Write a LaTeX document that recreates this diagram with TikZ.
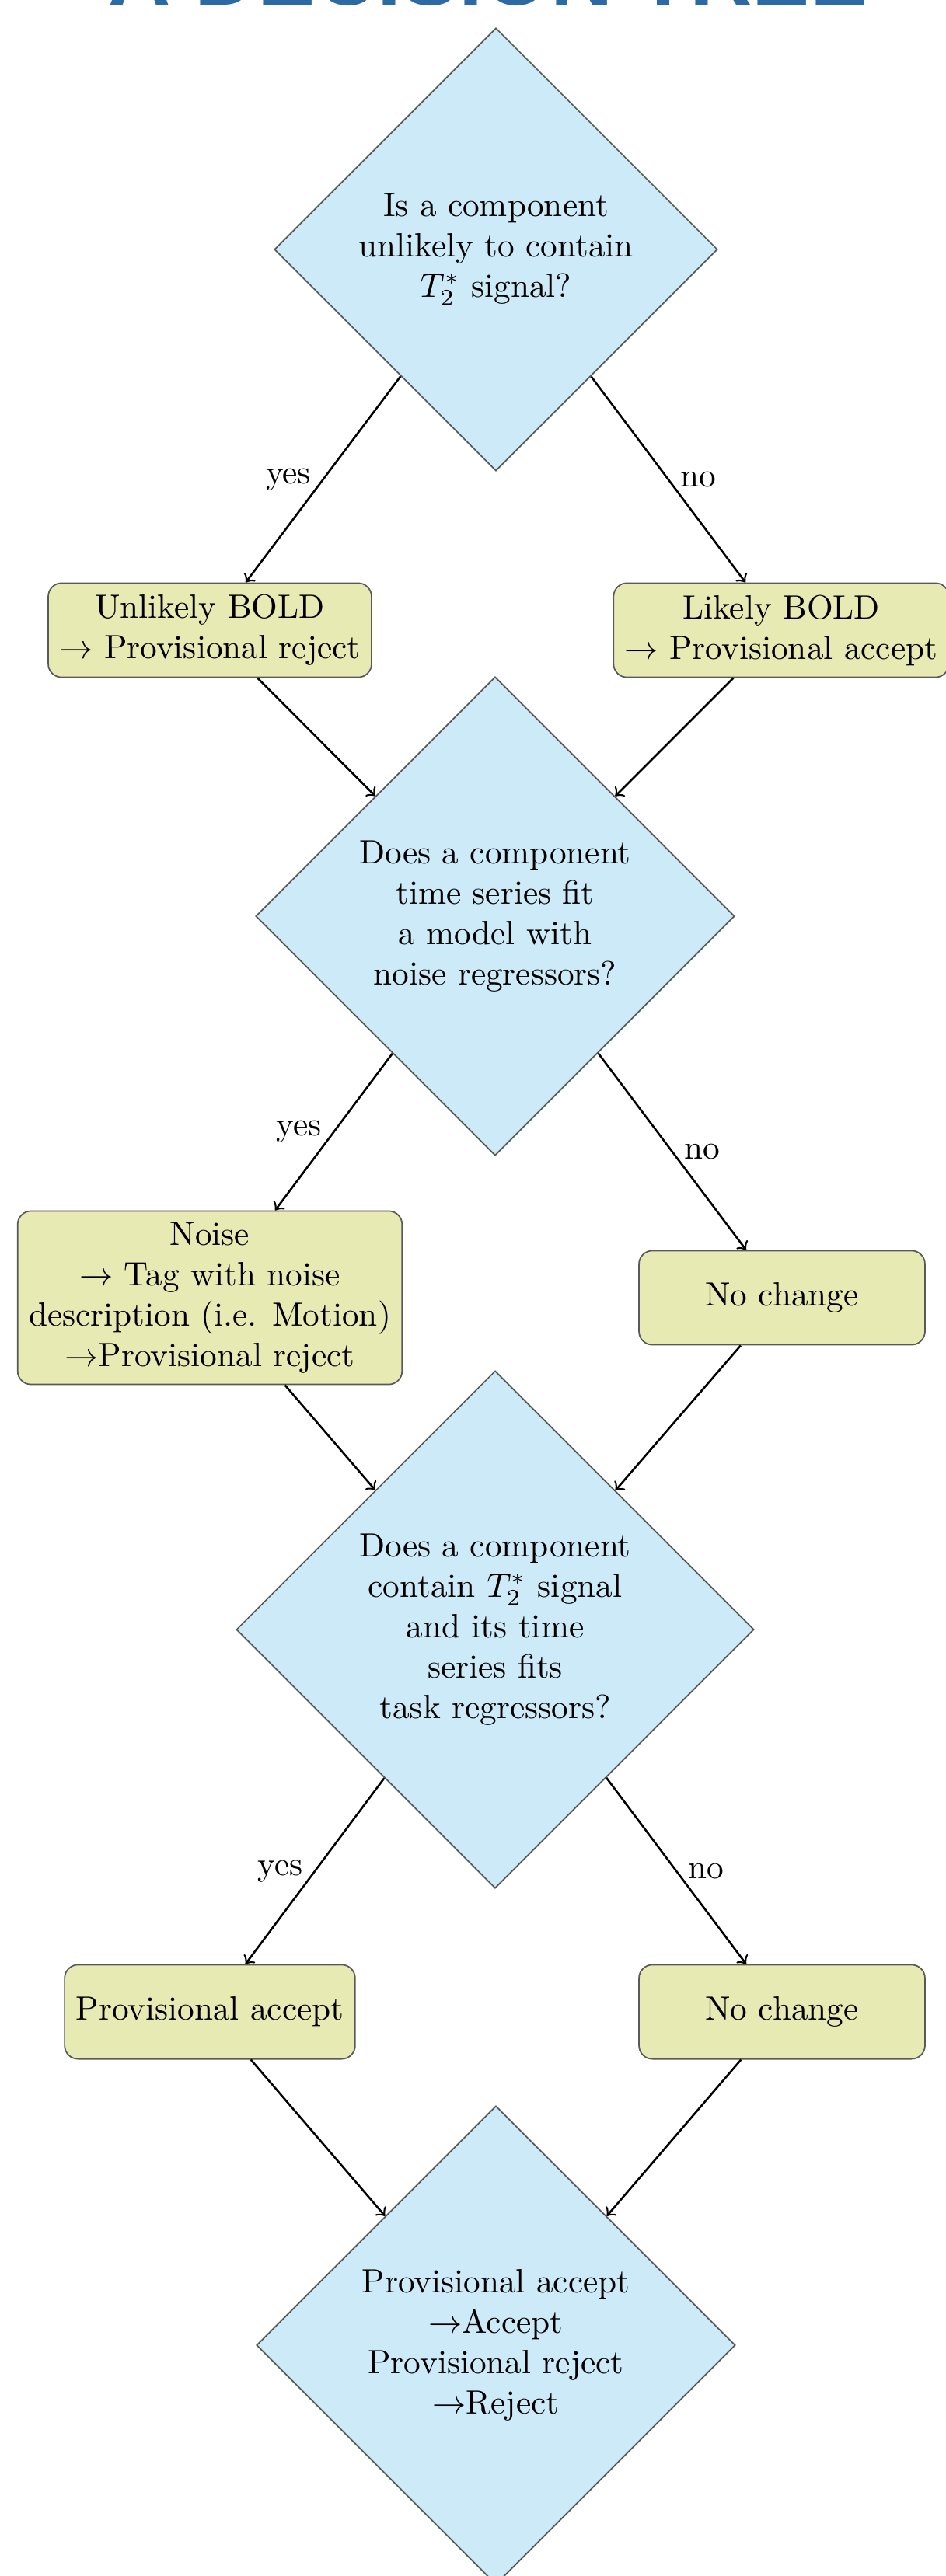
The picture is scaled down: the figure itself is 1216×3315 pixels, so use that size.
\documentclass[tikz,border=0pt]{standalone}
\usepackage{fontspec}
\newfontfamily\titlefont{Liberation Sans}
\usetikzlibrary{shapes.geometric}
\definecolor{questionfill}{RGB}{205,234,248}
\definecolor{outcomefill}{RGB}{232,234,180}
\definecolor{titleblue}{RGB}{45,105,165}

\begin{document}
\begin{tikzpicture}[x=0.231pt, y=-0.231pt,
    every node/.style = {align=center},
    question/.style = {shape=diamond, draw=black!65, fill=questionfill, inner sep=1pt,
      minimum width=#1, minimum height=#1},
    outcome/.style = {shape=rectangle, rounded corners=4pt, draw=black!65, fill=outcomefill,
      minimum width=85pt, minimum height=28pt},
    every edge/.style = {draw, semithick},
    ]
    \useasboundingbox (0,0) rectangle (1216,3315);
    \fill[white] (0,0) rectangle (1216,3315);
    % title, cut off at the top
    \node[font=\titlefont\bfseries\fontsize{25.7pt}{30pt}\selectfont, text=titleblue, anchor=base]
      (title) at (628,7) {A DECISION TREE};
    % questions and outcomes
    \node[question=131.7pt] (q1) at (638,321) {Is a component\\ unlikely to contain\\ $T_2^*$ signal?};
    \node[outcome] (unlikely) at (270,811) {Unlikely BOLD\\ $\rightarrow$ Provisional reject};
    \node[outcome] (likely) at (1005,811) {Likely BOLD\\ $\rightarrow$ Provisional accept};
    \node[question=142.3pt] (q2) at (637,1179) {Does a component\\ time series fit\\ a model with\\ noise regressors?};
    \node[outcome] (noise) at (270,1670) {Noise\\ $\rightarrow$ Tag with noise\\ description (i.e. Motion)\\ $\rightarrow$Provisional reject};
    \node[outcome] (nochangeA) at (1006,1670) {No change};
    \node[question=153.8pt] (q3) at (637,2097) {Does a component\\ contain $T_2^*$ signal\\ and its time\\ series fits\\ task regressors?};
    \node[outcome] (provaccept) at (270,2589) {Provisional accept};
    \node[outcome] (nochangeB) at (1006,2589) {No change};
    \node[question=142.3pt] (final) at (638,3018) {Provisional accept\\ $\rightarrow$Accept\\ Provisional reject\\ $\rightarrow$Reject};
    % connectors
    \draw[->, semithick] (q1) -- node[left] {yes} (unlikely);
    \draw[->, semithick] (q1) -- node[right] {no} (likely);
    \draw[->, semithick] (unlikely) -- (q2);
    \draw[->, semithick] (likely) -- (q2);
    \draw[->, semithick] (q2) -- node[left] {yes} (noise);
    \draw[->, semithick] (q2) -- node[right] {no} (nochangeA);
    \draw[->, semithick] (noise) -- (q3);
    \draw[->, semithick] (nochangeA) -- (q3);
    \draw[->, semithick] (q3) -- node[left] {yes} (provaccept);
    \draw[->, semithick] (q3) -- node[right] {no} (nochangeB);
    \draw[->, semithick] (provaccept) -- (final);
    \draw[->, semithick] (nochangeB) -- (final);
\end{tikzpicture}
\end{document}
